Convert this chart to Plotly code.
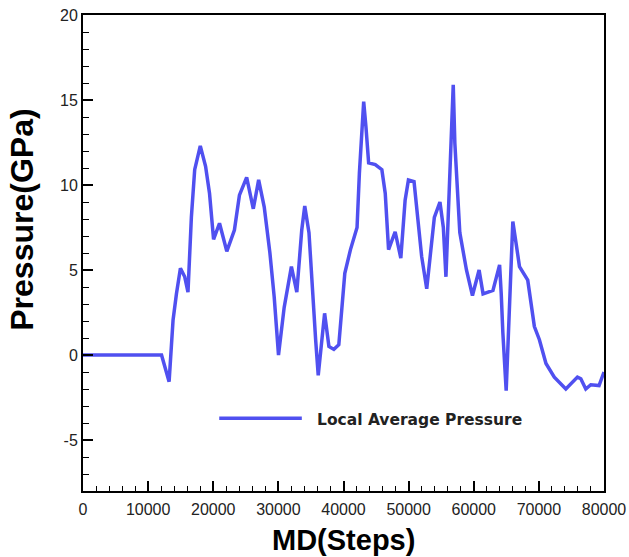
import plotly.graph_objects as go

# MD steps (x) and local average pressure in GPa (y)
md_steps = [0, 12060, 13220, 13830, 14350, 14960, 15620, 16120, 16640, 17150, 18010,
            18820, 19430, 20050, 20960, 22080, 23250, 24020, 25130, 26150, 26970,
            27830, 28700, 29360, 30020, 30890, 32000, 32830, 33590, 34050, 34700,
            35210, 35720, 36120, 37100, 37760, 38520, 39280, 39790, 40200, 41070,
            42080, 42440, 42690, 43100, 43450, 43860, 44880, 45890, 46410, 46920,
            47930, 48800, 49460, 49970, 50830, 51240, 52000, 52780, 53540, 53950,
            54810, 55330, 55730, 56090, 56440, 56850, 57100, 57460, 57860, 58880,
            59800, 60820, 61430, 62950, 63970, 64220, 64470, 64980, 65500, 65740,
            66000, 66510, 67020, 68290, 68800, 69310, 70080, 71090, 72370, 74140,
            75920, 76440, 77200, 77970, 79240, 80000]
pressure = [0.0, 0.0, -1.57, 2.06, 3.6, 5.1, 4.6, 3.7, 8.1, 10.9, 12.3,
            11.1, 9.5, 6.8, 7.75, 6.1, 7.35, 9.4, 10.45, 8.6, 10.3,
            8.7, 6.0, 3.4, 0.0, 2.8, 5.2, 3.7, 7.35, 8.76, 7.2,
            3.6, 0.9, -1.2, 2.45, 0.5, 0.33, 0.6, 3.2, 4.8, 6.2,
            7.5, 10.7, 12.25, 14.9, 13.4, 11.3, 11.2, 10.9, 9.5, 6.2,
            7.25, 5.7, 9.1, 10.3, 10.2, 8.5, 5.8, 3.9, 6.4, 8.1,
            9.0, 7.5, 4.6, 8.5, 12.1, 15.9, 12.45, 10.3, 7.2, 5.0,
            3.5, 5.0, 3.6, 3.8, 5.3, 3.6, 1.3, -2.1, 3.0, 6.4,
            7.85, 6.55, 5.2, 4.4, 3.0, 1.67, 0.9, -0.5, -1.3, -2.0,
            -1.3, -1.4, -2.0, -1.75, -1.8, -1.0]

x_ticks = [0, 10000, 20000, 30000, 40000, 50000, 60000, 70000, 80000]
y_ticks = [-5, 0, 5, 10, 15, 20]
series_name = "Local Average Pressure"
x_title = "MD(Steps)"
y_title = "Pressure(GPa)"

line_color = "rgb(80,80,240)"
tick_font = dict(family="Liberation Sans, Arial", size=16, color="#222")

fig = go.Figure()
fig.add_trace(go.Scatter(x=md_steps, y=pressure, mode="lines", name=series_name,
                         line=dict(color=line_color, width=3.5), showlegend=False))

axis_common = dict(showline=True, linecolor="black", linewidth=2, mirror=True,
                   showgrid=False, zeroline=False, ticks="inside", ticklen=10,
                   tickwidth=1.5, tickcolor="black", automargin=False,
                   ticklabeloverflow="allow", tickfont=tick_font)

fig.update_xaxes(range=[0, 80000], tickvals=x_ticks, ticktext=[str(v) for v in x_ticks],
                 minor=dict(ticks="inside", dtick=2000, ticklen=5, tickwidth=1.2, tickcolor="black"),
                 ticklabelstandoff=3,
                 **axis_common)
fig.update_yaxes(range=[-8, 20], tickvals=y_ticks, ticktext=[str(v) for v in y_ticks],
                 minor=dict(ticks="inside", dtick=1, tick0=0, ticklen=6, tickwidth=1.2, tickcolor="black"),
                 **axis_common)

# axis titles (placed as in the reference; y title sits above the axis centre)
fig.add_annotation(xref="paper", yref="paper", x=0.5, y=-0.103, xanchor="center", yanchor="middle",
                   text="<b>" + x_title + "</b>", showarrow=False,
                   font=dict(family="Liberation Sans, Arial", size=29, color="black"))
fig.add_annotation(xref="paper", yref="paper", x=-0.116, y=0.569, xanchor="center", yanchor="middle",
                   text="<b>" + y_title + "</b>", showarrow=False, textangle=-90,
                   font=dict(family="Liberation Sans, Arial", size=32, color="black"))

# legend drawn as a short line plus label
fig.add_shape(type="line", xref="paper", yref="paper", x0=0.2615, x1=0.42, y0=0.153, y1=0.153,
              line=dict(color=line_color, width=3.5))
fig.add_annotation(xref="paper", yref="paper", x=0.445, y=0.15, xanchor="left", yanchor="middle",
                   text="<b>" + series_name + "</b>", showarrow=False,
                   font=dict(family="DejaVu Sans", size=15.5, color="#222"))

fig.update_layout(width=629, height=557, margin=dict(l=83, r=25, t=15, b=66),
                  plot_bgcolor="white", paper_bgcolor="white")

fig.write_html("out.html")
